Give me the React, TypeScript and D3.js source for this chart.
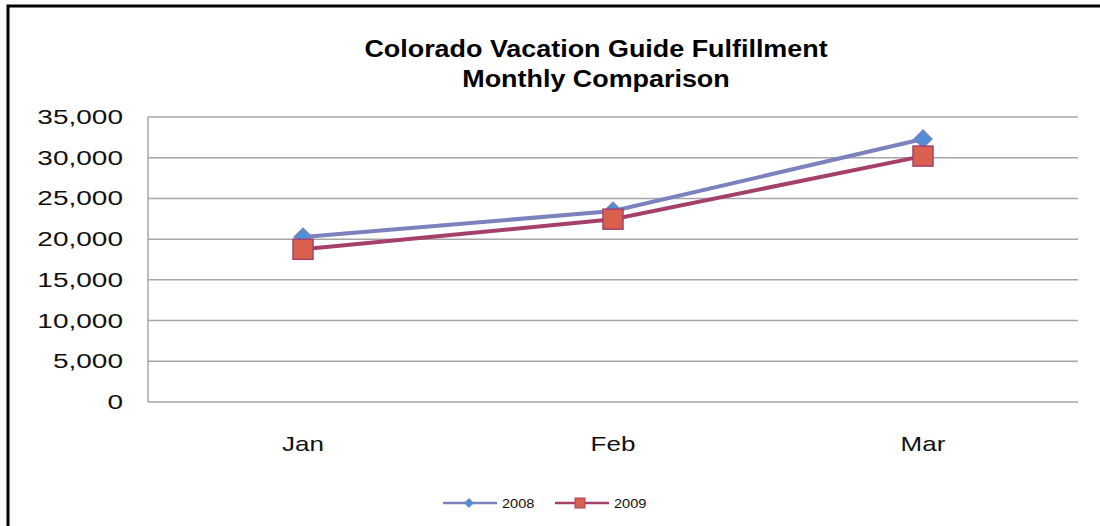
import React, { useEffect, useRef } from "react";
import * as d3 from "d3";

// chart data
const months = ["Jan", "Feb", "Mar"];
const series2008 = [20250, 23450, 32300];
const series2009 = [18750, 22450, 30200];
const yTicks = [0, 5000, 10000, 15000, 20000, 25000, 30000, 35000];

const W = 1100;
const H = 526;
const FONT = "'Liberation Sans', Arial, sans-serif";

export default function App() {
  const ref = useRef<SVGSVGElement>(null);

  useEffect(() => {
    const svg = d3.select(ref.current);
    svg.selectAll("*").remove();

    // outer frame (right/bottom edges fall outside the picture)
    svg
      .append("path")
      .attr("d", `M8,${H + 5} V6 H${W + 5}`)
      .attr("fill", "none")
      .attr("stroke", "#000")
      .attr("stroke-width", 3);

    // title (source picture is stretched wide, so scale text in x)
    ["Colorado Vacation Guide Fulfillment", "Monthly Comparison"].forEach((t, i) => {
      svg
        .append("text")
        .attr("transform", `translate(596,${57 + i * 30}) scale(1.17,1)`)
        .attr("text-anchor", "middle")
        .style("font-family", FONT)
        .style("font-weight", "bold")
        .style("font-size", "23px")
        .attr("fill", "#000")
        .text(t);
    });

    // scales
    const margin = { left: 148, right: 1078, top: 117, bottom: 402 };
    const x = d3.scaleBand().domain(months).range([margin.left, margin.right]);
    const y = d3.scaleLinear().domain([0, 35000]).range([margin.bottom, margin.top]);

    // gridlines
    svg
      .selectAll(".grid")
      .data(yTicks)
      .join("line")
      .attr("class", "grid")
      .attr("x1", margin.left)
      .attr("x2", margin.right)
      .attr("y1", (d) => y(d))
      .attr("y2", (d) => y(d))
      .attr("stroke", "#a6a6a6")
      .attr("stroke-width", 1.5);

    // y axis line
    svg
      .append("line")
      .attr("x1", margin.left)
      .attr("x2", margin.left)
      .attr("y1", margin.top)
      .attr("y2", margin.bottom)
      .attr("stroke", "#a6a6a6")
      .attr("stroke-width", 1.5);

    // y tick labels
    const fmt = d3.format(",");
    svg
      .selectAll(".ylab")
      .data(yTicks)
      .join("text")
      .attr("class", "ylab")
      .attr("transform", (d) => `translate(123,${y(d) + 7}) scale(1.4,1)`)
      .attr("text-anchor", "end")
      .style("font-family", FONT)
      .style("font-size", "20px")
      .attr("fill", "#111")
      .text((d) => fmt(d));

    const cx = (d: string) => (x(d) as number) + x.bandwidth() / 2;

    // x labels
    svg
      .selectAll(".xlab")
      .data(months)
      .join("text")
      .attr("class", "xlab")
      .attr("transform", (d) => `translate(${cx(d)},451) scale(1.3,1)`)
      .attr("text-anchor", "middle")
      .style("font-family", FONT)
      .style("font-size", "20px")
      .attr("fill", "#111")
      .text((d) => d);

    const line = d3
      .line<number>()
      .x((_, i) => cx(months[i]))
      .y((d) => y(d));

    // 2008 line
    svg
      .append("path")
      .attr("d", line(series2008))
      .attr("fill", "none")
      .attr("stroke", "#7b82bd")
      .attr("stroke-width", 4);

    // 2009 line
    svg
      .append("path")
      .attr("d", line(series2009))
      .attr("fill", "none")
      .attr("stroke", "#a5406b")
      .attr("stroke-width", 4);

    const diamond = d3.symbol().type(d3.symbolDiamond2).size(200);
    svg
      .selectAll(".m2008")
      .data(series2008)
      .join("path")
      .attr("class", "m2008")
      .attr("d", diamond)
      .attr("transform", (d, i) => `translate(${cx(months[i])},${y(d)})`)
      .attr("fill", "#4f8fd6")
      .attr("stroke", "#7b82bd")
      .attr("stroke-width", 1.5);

    svg
      .selectAll(".m2009")
      .data(series2009)
      .join("rect")
      .attr("class", "m2009")
      .attr("x", (d, i) => cx(months[i]) - 10)
      .attr("y", (d) => y(d) - 10)
      .attr("width", 20)
      .attr("height", 20)
      .attr("fill", "#d9604d")
      .attr("stroke", "#a5406b")
      .attr("stroke-width", 1.5);

    // legend
    const leg = svg.append("g").attr("transform", "translate(0,503)");
    const items = [
      { name: "2008", color: "#7b82bd", fill: "#4f8fd6", x: 443 },
      { name: "2009", color: "#a5406b", fill: "#d9604d", x: 555 },
    ];
    items.forEach((it, i) => {
      leg
        .append("line")
        .attr("x1", it.x)
        .attr("x2", it.x + 54)
        .attr("y1", 0)
        .attr("y2", 0)
        .attr("stroke", it.color)
        .attr("stroke-width", 2.5);
      if (i === 0) {
        leg
          .append("path")
          .attr("d", d3.symbol().type(d3.symbolDiamond2).size(50)())
          .attr("transform", `translate(${it.x + 26},0)`)
          .attr("fill", it.fill)
          .attr("stroke", it.color);
      } else {
        leg
          .append("rect")
          .attr("x", it.x + 20)
          .attr("y", -5)
          .attr("width", 10)
          .attr("height", 10)
          .attr("fill", it.fill)
          .attr("stroke", it.color);
      }
      leg
        .append("text")
        .attr("transform", `translate(${it.x + 59},5) scale(1.12,1)`)
        .style("font-family", FONT)
        .style("font-size", "13px")
        .attr("fill", "#111")
        .text(it.name);
    });
  }, []);

  return (
    <svg
      ref={ref}
      width={W}
      height={H}
      style={{ position: "absolute", left: 0, top: 0, background: "#fff" }}
    />
  );
}
